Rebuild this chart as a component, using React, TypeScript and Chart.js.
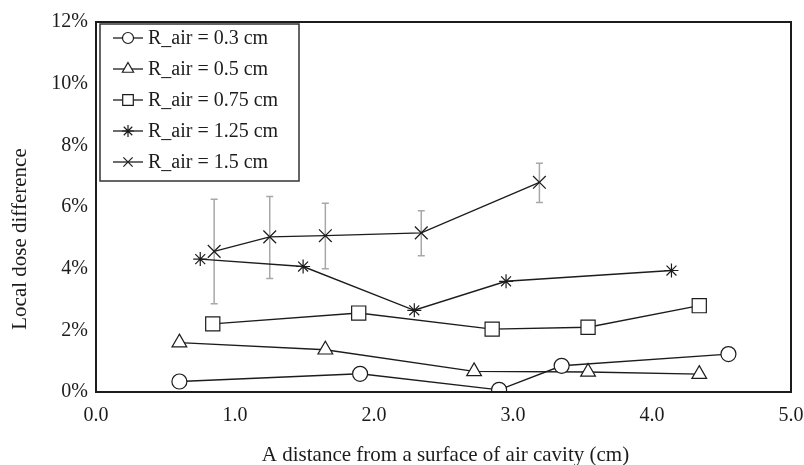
import React, { useEffect, useRef } from "react";
import { Chart, registerables } from "chart.js";
import { drawPoint } from "chart.js/helpers";

Chart.register(...registerables);

// ---- data ----
const seriesLabels = [
  "R_air = 0.3 cm",
  "R_air = 0.5 cm",
  "R_air = 0.75 cm",
  "R_air = 1.25 cm",
  "R_air = 1.5 cm",
];
const x03 = [0.6, 1.9, 2.9, 3.35, 4.55];
const y03 = [0.34, 0.59, 0.07, 0.85, 1.23];
const x05 = [0.6, 1.65, 2.72, 3.54, 4.34];
const y05 = [1.6, 1.37, 0.67, 0.65, 0.58];
const x075 = [0.84, 1.89, 2.85, 3.54, 4.34];
const y075 = [2.21, 2.56, 2.04, 2.1, 2.8];
const x125 = [0.75, 1.49, 2.29, 2.95, 4.14];
const y125 = [4.31, 4.07, 2.65, 3.59, 3.94];
const x15 = [0.85, 1.25, 1.65, 2.34, 3.19];
const y15 = [4.56, 5.03, 5.07, 5.16, 6.8];
const err15Low = [2.86, 3.68, 4.0, 4.42, 6.15];
const err15High = [6.25, 6.34, 6.12, 5.88, 7.42];

const xTitle = "A distance from a surface of air cavity (cm)";
const yTitle = "Local dose difference";
const xMin = 0, xMax = 5, xStep = 1;
const yMin = 0, yMax = 12, yStep = 2;

const FONT = "'Liberation Serif', 'Times New Roman', serif";
const INK = "#1c1c1c";

const pts = (xs: number[], ys: number[]) => xs.map((x, i) => ({ x, y: ys[i] }));

const markerStyles: any[] = ["circle", "triangle", "rect", "star", "crossRot"];
const markerRadius = [7.5, 8.5, 10, 7, 9];
const legendRadius = [5.5, 6.5, 7.5, 6, 6.5];

const errorBarPlugin = {
  id: "errorBars",
  beforeDatasetsDraw(chart: any) {
    const { ctx, scales } = chart;
    const xs = scales.x, ys = scales.y;
    ctx.save();
    ctx.strokeStyle = "#a8a8a8";
    ctx.lineWidth = 1.5;
    x15.forEach((xv, i) => {
      const px = xs.getPixelForValue(xv);
      const top = ys.getPixelForValue(err15High[i]);
      const bot = ys.getPixelForValue(err15Low[i]);
      ctx.beginPath();
      ctx.moveTo(px, top);
      ctx.lineTo(px, bot);
      ctx.moveTo(px - 3.5, top);
      ctx.lineTo(px + 3.5, top);
      ctx.moveTo(px - 3.5, bot);
      ctx.lineTo(px + 3.5, bot);
      ctx.stroke();
    });
    ctx.restore();
  },
};

const framePlugin = {
  id: "frameAndLegend",
  afterDraw(chart: any) {
    const { ctx, chartArea } = chart;
    const { left, right, top, bottom } = chartArea;
    ctx.save();
    // frame
    ctx.strokeStyle = INK;
    ctx.lineWidth = 2;
    ctx.strokeRect(left, top, right - left, bottom - top);

    // axis titles
    ctx.fillStyle = INK;
    ctx.font = `21px ${FONT}`;
    ctx.textAlign = "center";
    ctx.textBaseline = "alphabetic";
    ctx.fillText(xTitle, (left + right) / 2 + 2, chart.height - 4);
    ctx.save();
    ctx.translate(26, 239);
    ctx.rotate(-Math.PI / 2);
    ctx.fillText(yTitle, 0, 0);
    ctx.restore();

    // legend
    const lx = left + 4, ly = top + 2, lw = 199, lh = 157;
    ctx.fillStyle = "#fff";
    ctx.fillRect(lx, ly, lw, lh);
    ctx.strokeStyle = "#333";
    ctx.lineWidth = 1.5;
    ctx.strokeRect(lx, ly, lw, lh);
    ctx.font = `20px ${FONT}`;
    ctx.textAlign = "left";
    ctx.textBaseline = "middle";
    seriesLabels.forEach((lab, i) => {
      const cy = ly + 14 + i * 31;
      const cx = lx + 28;
      ctx.strokeStyle = INK;
      ctx.lineWidth = 1.3;
      ctx.beginPath();
      ctx.moveTo(lx + 13, cy);
      ctx.lineTo(lx + 43, cy);
      ctx.stroke();
      ctx.fillStyle = "#fff";
      ctx.strokeStyle = INK;
      ctx.lineWidth = 1.2;
      drawPoint(ctx, { pointStyle: markerStyles[i], radius: legendRadius[i], rotation: 0, borderWidth: 1.2 } as any, cx, cy);
      ctx.fillStyle = INK;
      ctx.fillText(lab, lx + 48, cy + 1);
    });
    ctx.restore();
  },
};

export default function App() {
  const ref = useRef<HTMLCanvasElement | null>(null);
  useEffect(() => {
    document.body.style.margin = "0";
    const canvas = ref.current!;
    const allX = [x03, x05, x075, x125, x15];
    const allY = [y03, y05, y075, y125, y15];
    const chart = new Chart(canvas, {
      type: "scatter",
      data: {
        datasets: seriesLabels.map((label, i) => ({
          label,
          data: pts(allX[i], allY[i]),
          showLine: true,
          borderColor: INK,
          borderWidth: 1.4,
          backgroundColor: "#fff",
          pointStyle: markerStyles[i],
          pointRadius: markerRadius[i],
          pointBorderColor: INK,
          pointBackgroundColor: "#fff",
          pointBorderWidth: 1.2,
          tension: 0,
        })),
      },
      options: {
        animation: false,
        responsive: false,
        devicePixelRatio: 1,
        layout: { padding: { top: 22, right: 0, left: 0, bottom: 0 } },
        plugins: { legend: { display: false }, tooltip: { enabled: false } },
        scales: {
          x: {
            type: "linear",
            min: xMin,
            max: xMax,
            grid: { display: false, drawTicks: false },
            border: { display: false },
            ticks: {
              stepSize: xStep,
              padding: 12,
              maxRotation: 0,
              color: INK,
              font: { family: FONT, size: 20 },
              callback: (v: any) => Number(v).toFixed(1),
            },
            afterFit: (s: any) => { s.height = 73; s.paddingRight = 13; s.paddingLeft = 0; },
          },
          y: {
            type: "linear",
            min: yMin,
            max: yMax,
            grid: { display: false, drawTicks: false },
            border: { display: false },
            ticks: {
              stepSize: yStep,
              padding: 8,
              color: INK,
              font: { family: FONT, size: 20 },
              callback: (v: any) => `${v}%`,
            },
            afterFit: (s: any) => { s.width = 96; s.paddingTop = 0; s.paddingBottom = 0; },
          },
        },
      },
      plugins: [errorBarPlugin, framePlugin],
    } as any);
    return () => chart.destroy();
  }, []);
  return (
    <div style={{ position: "absolute", left: 0, top: 0, width: 804, height: 465, background: "#fff" }}>
      <canvas ref={ref} width={804} height={465} style={{ width: 804, height: 465 }} />
    </div>
  );
}
